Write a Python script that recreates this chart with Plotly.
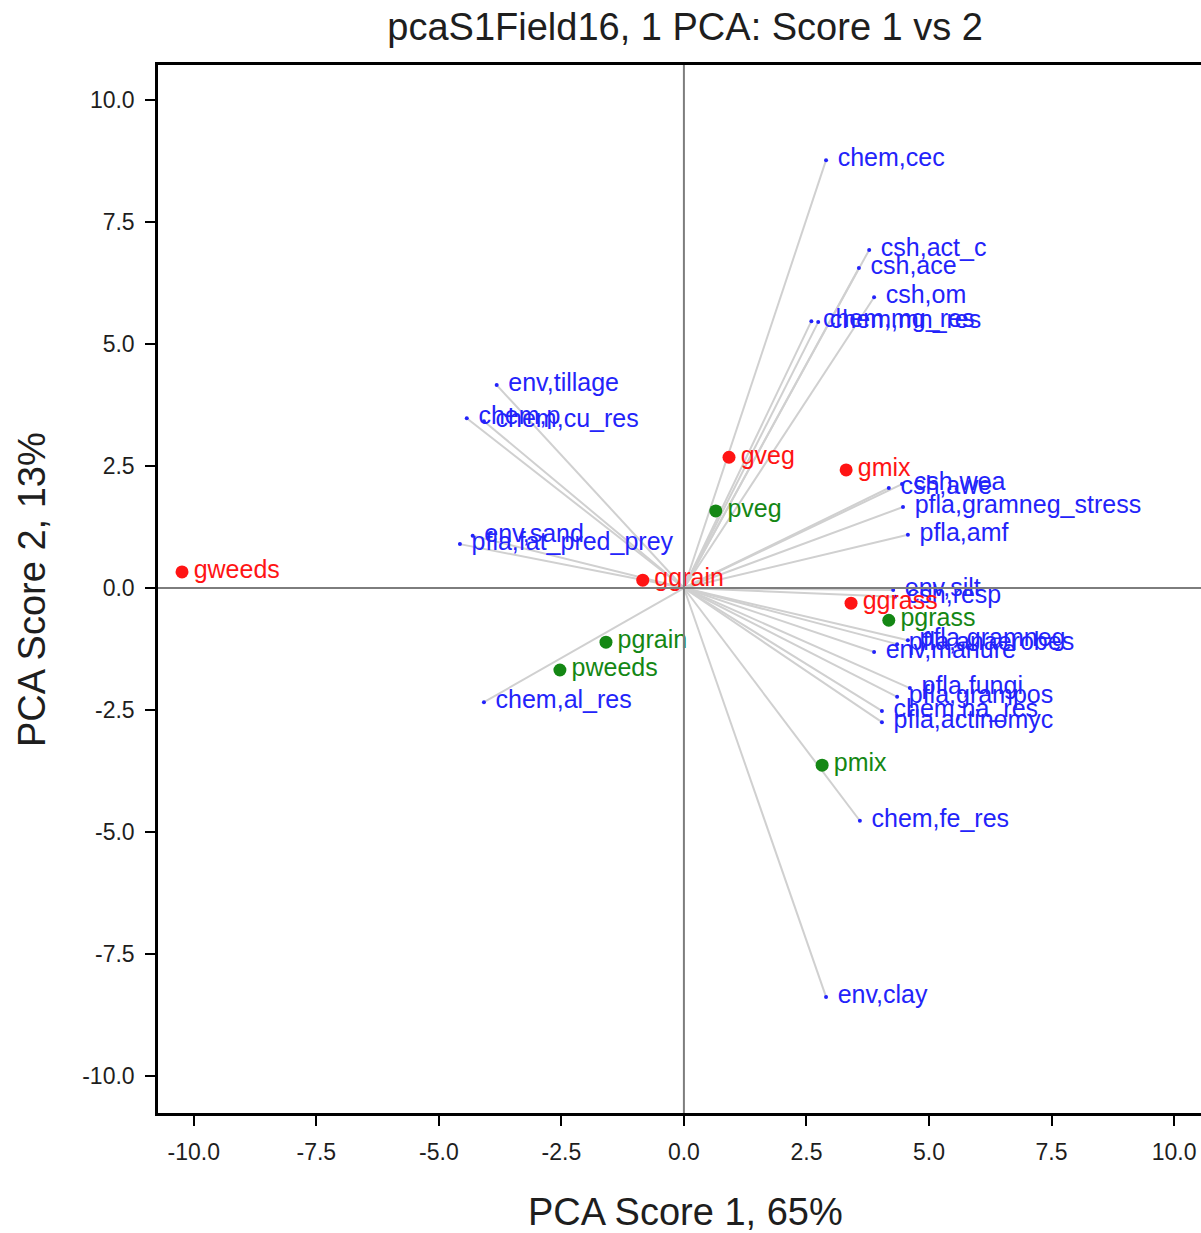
import plotly.graph_objects as go

# Variable loadings (blue vectors)
var_names = [
    "chem,cec", "csh,act_c", "csh,ace", "csh,om", "chem,mg_res", "chem,mn_res",
    "env,tillage", "chem,p", "chem,cu_res", "env,sand", "pfla,fat_pred_prey",
    "csh,awe", "csh,wea", "pfla,gramneg_stress", "pfla,amf", "env,silt", "csh,resp",
    "pfla,gramneg", "pfla,anaerobes", "env,manure", "pfla,fungi", "pfla,grampos",
    "chem,na_res", "pfla,actinomyc", "chem,al_res", "chem,fe_res", "env,clay",
]
var_x = [2.90, 3.78, 3.57, 3.88, 2.60, 2.74,
         -3.82, -4.43, -4.08, -4.31, -4.57,
         4.18, 4.45, 4.47, 4.57, 4.27, 4.31,
         4.57, 4.35, 3.88, 4.61, 4.35,
         4.04, 4.04, -4.08, 3.59, 2.90]
var_y = [8.77, 6.93, 6.56, 5.96, 5.47, 5.45,
         4.16, 3.48, 3.42, 1.07, 0.90,
         2.05, 2.13, 1.66, 1.09, -0.04, -0.18,
         -1.07, -1.15, -1.31, -2.05, -2.23,
         -2.52, -2.75, -2.34, -4.77, -8.38]

# Sample scores, "g" group (red)
g_names = ["gweeds", "ggrain", "gveg", "gmix", "ggrass"]
g_x = [-10.24, -0.84, 0.92, 3.31, 3.41]
g_y = [0.33, 0.16, 2.68, 2.42, -0.31]

# Sample scores, "p" group (green)
p_names = ["pveg", "pgrass", "pgrain", "pweeds", "pmix"]
p_x = [0.65, 4.18, -1.59, -2.53, 2.82]
p_y = [1.58, -0.66, -1.11, -1.68, -3.63]

tick_vals = [-10.0, -7.5, -5.0, -2.5, 0.0, 2.5, 5.0, 7.5, 10.0]
tick_text = ["-10.0", "-7.5", "-5.0", "-2.5", "0.0", "2.5", "5.0", "7.5", "10.0"]

FONT = "Liberation Sans, Arial, sans-serif"
BLUE = "rgb(35,35,250)"
RED = "rgb(255,20,20)"
GREEN = "rgb(20,135,20)"

fig = go.Figure()

# vectors from origin to each loading
lx, ly = [], []
for x, y in zip(var_x, var_y):
    lx += [0, x, None]
    ly += [0, y, None]
fig.add_trace(go.Scatter(x=lx, y=ly, mode="lines",
                         line=dict(color="rgb(208,208,208)", width=2),
                         hoverinfo="skip", showlegend=False))

# loading end points
fig.add_trace(go.Scatter(x=var_x, y=var_y, mode="markers",
                         marker=dict(color=BLUE, size=4),
                         showlegend=False))
# sample points
fig.add_trace(go.Scatter(x=g_x, y=g_y, mode="markers",
                         marker=dict(color=RED, size=13),
                         showlegend=False))
fig.add_trace(go.Scatter(x=p_x, y=p_y, mode="markers",
                         marker=dict(color=GREEN, size=13),
                         showlegend=False))

# text labels (transparent markers set the offset of the text)
for names, xs, ys, col in [(var_names, var_x, var_y, BLUE),
                           (g_names, g_x, g_y, RED),
                           (p_names, p_x, p_y, GREEN)]:
    fig.add_trace(go.Scatter(x=xs, y=ys, mode="markers+text", text=names,
                             textposition="middle right",
                             textfont=dict(family=FONT, size=25, color=col),
                             marker=dict(size=17, opacity=0),
                             hoverinfo="skip", showlegend=False))

# axes through the origin, drawn above the labels
fig.add_shape(type="line", xref="x", yref="paper", x0=0, x1=0, y0=0, y1=1,
              line=dict(color="rgb(125,125,125)", width=2), layer="above")
fig.add_shape(type="line", xref="paper", yref="y", x0=0, x1=1, y0=0, y1=0,
              line=dict(color="rgb(125,125,125)", width=2), layer="above")

axis_common = dict(
    tickvals=tick_vals, ticktext=tick_text,
    ticks="outside", ticklen=10, tickwidth=2, tickcolor="black",
    showline=True, linecolor="black", linewidth=2.5,
    showgrid=False, zeroline=False,
    tickfont=dict(family=FONT, size=23, color="rgb(30,30,30)"),
)

fig.update_layout(
    width=1201, height=1233,
    margin=dict(l=158, r=0, t=65, b=120),
    paper_bgcolor="white", plot_bgcolor="white",
    xaxis=dict(range=[-10.73, 10.55], mirror=True, ticklabelstandoff=7, **axis_common),
    yaxis=dict(range=[-10.76, 10.72], ticklabelstandoff=6, **axis_common),
    title=dict(text="pcaS1Field16, 1 PCA: Score 1 vs 2",
               font=dict(family=FONT, size=38, color="rgb(30,30,30)"),
               x=0.5705, xref="container", xanchor="center",
               y=1 - 27 / 1233, yref="container", yanchor="middle"),
    annotations=[
        dict(text="PCA Score 1, 65%", xref="paper", yref="paper",
             x=(685 - 158) / 1043, y=-(1212 - 1113) / 1048,
             xanchor="center", yanchor="middle", showarrow=False,
             font=dict(family=FONT, size=38, color="rgb(30,30,30)")),
        dict(text="PCA Score 2, 13%", xref="paper", yref="paper",
             x=-(158 - 32) / 1043, y=(1113 - 590) / 1048, textangle=-90,
             xanchor="center", yanchor="middle", showarrow=False,
             font=dict(family=FONT, size=38, color="rgb(30,30,30)")),
    ],
)

fig.write_html("out.html")
